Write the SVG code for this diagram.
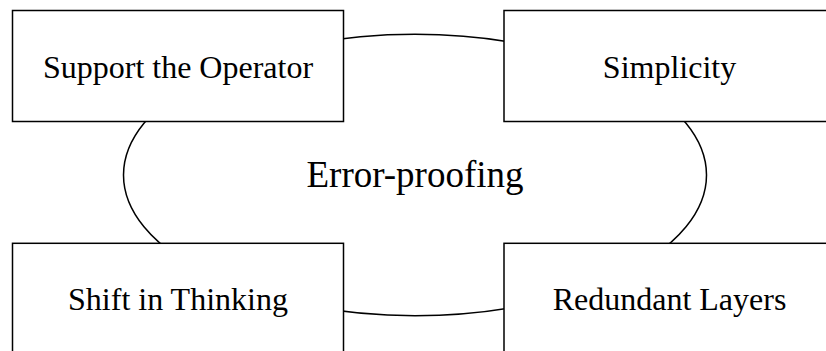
<svg xmlns="http://www.w3.org/2000/svg" width="826" height="351" viewBox="0 0 826 351">
  <style>
    .shape { fill: #ffffff; stroke: #000000; stroke-width: 1.5; }
    .label { font-family: "Liberation Serif", "Times New Roman", serif; font-size: 32px; fill: #000000; text-anchor: middle; }
    .center-label { font-size: 37px; }
  </style>
  <rect x="0" y="0" width="826" height="351" fill="#ffffff"/>
  <!-- central concept -->
  <g id="error-proofing">
    <ellipse class="shape" cx="415" cy="175" rx="291.5" ry="140.7"/>
    <text class="label center-label" x="415" y="187">Error-proofing</text>
  </g>
  <!-- surrounding principles -->
  <g id="support-the-operator">
    <rect class="shape" x="12.5" y="10.5" width="331" height="111"/>
    <text class="label" x="178" y="78">Support the Operator</text>
  </g>
  <g id="simplicity">
    <rect class="shape" x="504" y="10.5" width="331" height="111"/>
    <text class="label" x="669.5" y="78">Simplicity</text>
  </g>
  <g id="shift-in-thinking">
    <rect class="shape" x="12.5" y="243.3" width="331" height="111"/>
    <text class="label" x="178" y="310">Shift in Thinking</text>
  </g>
  <g id="redundant-layers">
    <rect class="shape" x="504" y="243.3" width="331" height="111"/>
    <text class="label" x="669.5" y="310">Redundant Layers</text>
  </g>
</svg>
